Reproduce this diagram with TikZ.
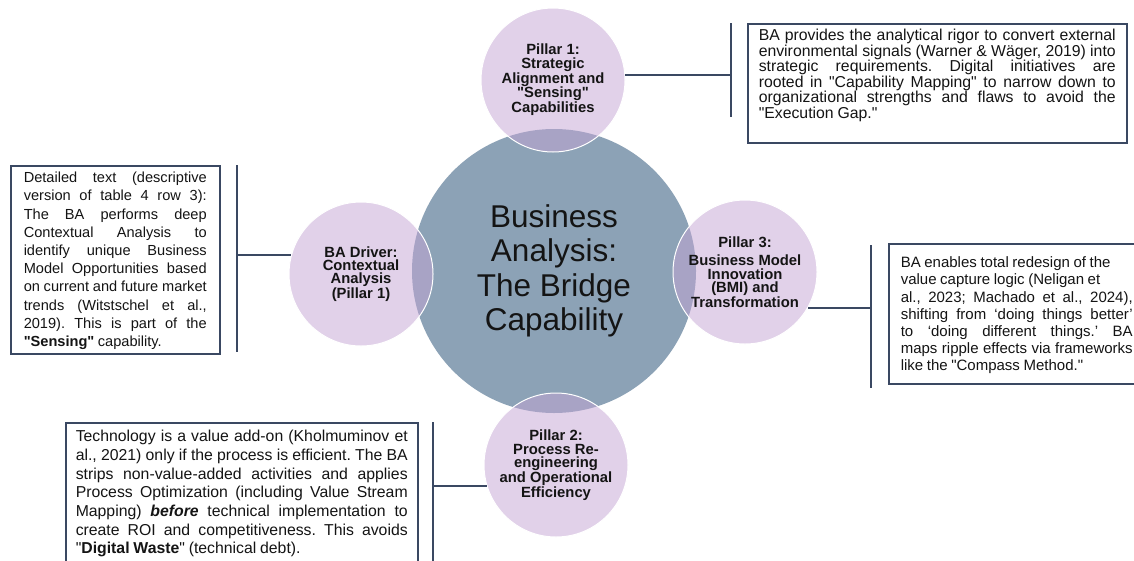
\documentclass[tikz,border=0pt]{standalone}
\usepackage{fontspec}
\setmainfont{Liberation Sans}[Ligatures=TeXOff]
\usetikzlibrary{shapes.geometric}
\definecolor{hubblue}{RGB}{140,162,182}
\definecolor{pillarlilac}{RGB}{197,165,213}
\definecolor{inkslate}{RGB}{58,72,98}
\definecolor{textgray}{RGB}{20,20,20}
% tight, unhyphenated justified text for the notes
\newcommand{\nohyph}{\hyphenpenalty=10000\exhyphenpenalty=10000\lefthyphenmin=62\frenchspacing
  \spaceskip=0.24em plus 1em minus 0.03em\relax}

\begin{document}
\begin{tikzpicture}[x=1pt,y=-1pt,
  hub/.style={circle,fill=hubblue,minimum size=284pt,inner sep=0pt,align=center,text=textgray,
    font=\fontsize{31.5}{34.5}\selectfont},
  pillar/.style={circle,fill=pillarlilac,fill opacity=0.5,text opacity=1,draw=white,line width=1pt,
    minimum size=144pt,inner sep=0pt,align=center,text=textgray,font=\bfseries\fontsize{14.8}{13.4}\selectfont},
  note/.style={draw=inkslate,line width=1.5pt,anchor=north west,inner ysep=4pt,align=justify,text=textgray},
  link/.style={draw=inkslate,line width=1.8pt}]
\useasboundingbox[fill=white] (0,0) rectangle (1134,560);

% hub and the four pillars
\node[hub] (hub) at (554,271) {Business\\Analysis:\\The Bridge\\Capability};
\node[pillar] (p1) at (553,80) {Pillar 1:\\Strategic\\Alignment and\\"Sensing"\\Capabilities};
\node[pillar] (drv) at (361,274) {BA Driver:\\Contextual\\Analysis\\(Pillar 1)};
\node[pillar] (p3) at (745,272) {Pillar 3:\\[5pt]Business Model\\Innovation\\(BMI) and\\Transformation};
\node[pillar] (p2) at (556,465) {Pillar 2:\\Process Re-\\engineering\\and Operational\\Efficiency};

% text boxes
\node[note,inner xsep=11pt,text width=357pt,text height=13pt,text depth=98pt,
  font=\fontsize{15.8}{15.5}\selectfont\nohyph] (n1) at (747,23) {%
BA provides the analytical rigor to convert external\linebreak
environmental signals (Warner \& Wäger, 2019) into\linebreak
strategic requirements. Digital initiatives are\linebreak
rooted in "Capability Mapping" to narrow down to\linebreak
organizational strengths and flaws to avoid the\linebreak
"Execution Gap."};

\node[note,inner xsep=13pt,text width=183pt,text height=13pt,text depth=167pt,
  font=\fontsize{14.6}{18.2}\selectfont\nohyph] (ndrv) at (10,165) {%
Detailed text (descriptive\linebreak
version of table 4 row 3):\linebreak
The BA performs deep\linebreak
Contextual Analysis to\linebreak
identify unique Business\linebreak
Model Opportunities based\linebreak
on current and future market\linebreak
trends (Witstschel et al.,\linebreak
2019). This is part of the\linebreak
{\bfseries "Sensing"} capability.};

\node[note,inner xsep=12pt,text width=232pt,text height=20pt,text depth=112pt,
  font=\fontsize{15}{17.2}\selectfont\nohyph] (n3) at (888,243) {%
BA enables total redesign of the\\
value capture logic (Neligan et\\
al., 2023; Machado et al., 2024),\linebreak
shifting from ‘doing things better’\linebreak
to ‘doing different things.’ BA\linebreak
maps ripple effects via frameworks\linebreak
like the "Compass Method."};

\node[note,inner xsep=10pt,text width=332pt,text height=15pt,text depth=140pt,
  font=\fontsize{15.8}{18.7}\selectfont\nohyph] (n2) at (65,422) {%
Technology is a value add-on (Kholmuminov et\linebreak
al., 2021) only if the process is efficient. The BA\linebreak
strips non-value-added activities and applies\linebreak
Process Optimization (including Value Stream\linebreak
Mapping) \textbf{\textit{before}} technical implementation to\linebreak
create ROI and competitiveness. This avoids\linebreak
"\textbf{Digital Waste}" (technical debt).};

% brackets
\coordinate (b1a) at (731,23);   \coordinate (b1b) at (731,117);
\coordinate (bda) at (237,165);  \coordinate (bdb) at (237,352);
\coordinate (b3a) at (871,245);  \coordinate (b3b) at (871,388);
\coordinate (b2a) at (433,422);  \coordinate (b2b) at (433,570);
\draw[link] (b1a) -- (b1b);
\draw[link] (bda) -- (bdb);
\draw[link] (b3a) -- (b3b);
\draw[link] (b2a) -- (b2b);

% connectors
\draw[link] (p1.4) -- (p1.4 -| b1a);
\draw[link] (drv.165) -- (drv.165 -| bda);
\draw[link] (p3.-30) -- (p3.-30 -| b3a);
\draw[link] (p2.197) -- (p2.197 -| b2a);
\end{tikzpicture}
\end{document}
